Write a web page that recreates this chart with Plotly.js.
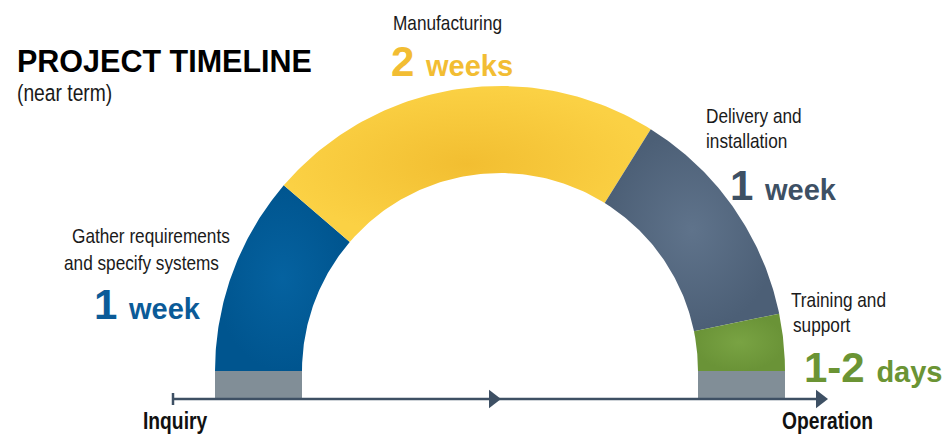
<!DOCTYPE html>
<html>
<head>
<meta charset="utf-8">
<script src="https://cdn.plot.ly/plotly-3.0.1.min.js"></script>
<style>
  html, body { margin: 0; padding: 0; background: #ffffff; }
  #chart { width: 945px; height: 437px; }
</style>
</head>
<body>
<div id="chart"></div>
<script>
// ---------------- DATA ----------------
const stageLines = [
  ['Gather requirements', 'and specify systems'],
  ['Manufacturing'],
  ['Delivery and', 'installation'],
  ['Training and', 'support']
];
const durationDays = [7, 14, 8, 2];          // share of the half-ring
const durationNumber = ['1', '2', '1', '1-2'];
const durationUnit = ['week', 'weeks', 'week', 'days'];
const endpointLabels = ['Inquiry', 'Operation'];
const chartTitle = 'PROJECT TIMELINE';
const chartSubtitle = '(near term)';

// ---------------- STYLE ----------------
const W = 945, H = 437;
const CX = 500, CY = 371;         // ring centre in pixels
const R_OUT = 285, R_IN = 198;    // ring radii (pixels == data units)
const BASE_DEPTH = 27;            // grey base under the ring
const AXIS_Y = -28;
const AXIS_HALF = 327;

const segColors = [
  {edge: '#00558f', mid: '#0562a0'},
  {edge: '#fbd144', mid: '#f2be31'},
  {edge: '#4c5f76', mid: '#5f738b'},
  {edge: '#6a9337', mid: '#79a343'}
];
const textColors = ['#0b5b98', '#f2bd33', '#3d5064', '#6b9434'];
const greyBase = '#818e97';
const axisColor = '#3e5064';

const NARROW = "'Liberation Sans Narrow', 'Arial Narrow', 'Liberation Sans', sans-serif";
const SANS = "'Liberation Sans', Arial, sans-serif";
const NARROW_SCALE = 0.82;        // condense regular face to a narrow look

// pixel -> data helpers
const dx = px => px - CX;
const dy = py => CY - py;

// ---------------- TRACES ----------------
const total = durationDays.reduce((a, b) => a + b, 0);
const traces = [];
let cum = 0;
durationDays.forEach((d, i) => {
  const a0 = Math.PI - (cum / total) * Math.PI;
  const a1 = Math.PI - ((cum + d) / total) * Math.PI;
  cum += d;
  const n = 80;
  const xs = [], ys = [];
  for (let k = 0; k <= n; k++) {
    const a = a0 + (a1 - a0) * k / n;
    xs.push(R_OUT * Math.cos(a)); ys.push(R_OUT * Math.sin(a));
  }
  for (let k = n; k >= 0; k--) {
    const a = a0 + (a1 - a0) * k / n;
    xs.push(R_IN * Math.cos(a)); ys.push(R_IN * Math.sin(a));
  }
  xs.push(xs[0]); ys.push(ys[0]);
  traces.push({
    type: 'scatter', mode: 'lines', x: xs, y: ys,
    fill: 'toself',
    fillgradient: {type: 'radial', colorscale: [[0, segColors[i].mid], [1, segColors[i].edge]]},
    fillcolor: segColors[i].mid,
    line: {width: 0, color: segColors[i].mid},
    hoverinfo: 'skip', showlegend: false
  });
});

// grey bases under both ends of the ring
[-1, 1].forEach(side => {
  const x0 = side * R_IN, x1 = side * R_OUT;
  traces.push({
    type: 'scatter', mode: 'lines',
    x: [x0, x1, x1, x0, x0], y: [0, 0, -BASE_DEPTH, -BASE_DEPTH, 0],
    fill: 'toself', fillcolor: greyBase, line: {width: 0, color: greyBase},
    hoverinfo: 'skip', showlegend: false
  });
});

// timeline axis
traces.push({
  type: 'scatter', mode: 'lines', x: [-AXIS_HALF, AXIS_HALF - 4], y: [AXIS_Y, AXIS_Y],
  line: {color: axisColor, width: 2.5}, hoverinfo: 'skip', showlegend: false
});
traces.push({
  type: 'scatter', mode: 'lines', x: [-AXIS_HALF, -AXIS_HALF], y: [AXIS_Y + 6, AXIS_Y - 6],
  line: {color: axisColor, width: 2.5}, hoverinfo: 'skip', showlegend: false
});
traces.push({
  type: 'scatter', mode: 'markers', x: [-7, AXIS_HALF - 7], y: [AXIS_Y, AXIS_Y],
  marker: {symbol: 'triangle-right', size: 16, color: axisColor, line: {width: 0}},
  hoverinfo: 'skip', showlegend: false
});

// ---------------- ANNOTATIONS ----------------
const ann = [];
const narrowIdx = [];
function addText(text, pxLeft, baseline, size, family, color, weight, narrow) {
  if (narrow) narrowIdx.push(ann.length);
  ann.push({
    xref: 'x', yref: 'y', x: dx(pxLeft - 2), y: dy(baseline - 0.35 * size),
    xanchor: 'left', yanchor: 'middle', showarrow: false, align: 'left',
    text: text, font: {family: family, size: size, color: color, weight: weight || 'normal'}
  });
}
addText(chartTitle, 17, 72, 30.5, SANS, '#000000', 'bold');
addText(chartSubtitle, 17, 101, 23.5, NARROW, '#1a1a1a', 'normal', true);

const labelPos = [
  [[72, 243], [64, 270]],
  [[393, 30]],
  [[706, 123], [706, 148]],
  [[791, 307], [793, 332]]
];
stageLines.forEach((lines, i) => {
  lines.forEach((ln, j) => addText(ln, labelPos[i][j][0], labelPos[i][j][1], 21, NARROW, '#1a1a1a', 'normal', true));
});

const durPos = [[97, 319], [394, 76], [733, 200], [807, 382]];
durationNumber.forEach((num, i) => {
  const txt = num + ' <span style="font-size:29px">' + durationUnit[i] + '</span>';
  addText(txt, durPos[i][0] - 3, durPos[i][1], 42, SANS, textColors[i], 'bold');
});

addText(endpointLabels[0], 143, 429, 23.5, NARROW, '#111111', 'bold', true);
addText(endpointLabels[1], 782, 429, 23.5, NARROW, '#111111', 'bold', true);

// ---------------- LAYOUT ----------------
const layout = {
  width: W, height: H,
  margin: {l: 0, r: 0, t: 0, b: 0, pad: 0},
  paper_bgcolor: '#ffffff', plot_bgcolor: '#ffffff',
  xaxis: {range: [-CX, W - CX], visible: false, fixedrange: true},
  yaxis: {range: [CY - H, CY], visible: false, fixedrange: true},
  showlegend: false,
  annotations: ann
};

function condense() {
  narrowIdx.forEach(i => {
    const t = document.querySelector('#chart g.annotation[data-index="' + i + '"] text.annotation-text');
    if (t) {
      t.style.transformBox = 'fill-box';
      t.style.transformOrigin = 'left center';
      t.style.transform = 'scaleX(' + NARROW_SCALE + ')';
    }
  });
}

const gd = document.getElementById('chart');
Plotly.newPlot(gd, traces, layout, {staticPlot: true, displayModeBar: false}).then(() => {
  condense();
  gd.on && gd.on('plotly_afterplot', condense);
});
</script>
</body>
</html>
